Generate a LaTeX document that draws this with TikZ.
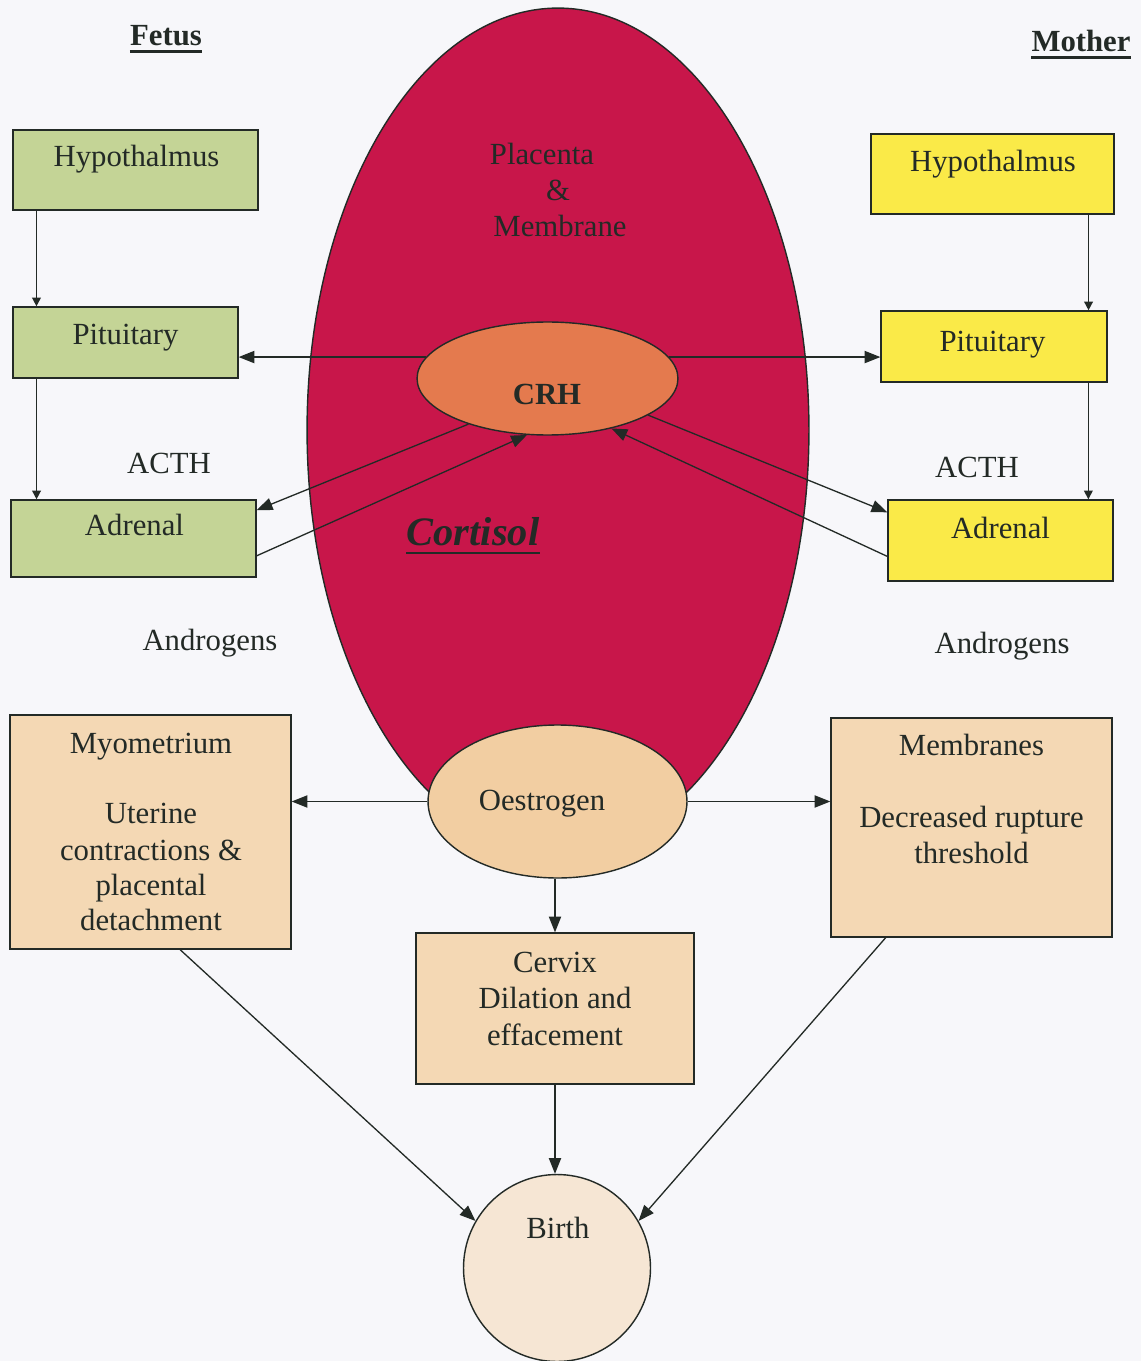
\documentclass[tikz,border=0pt]{standalone}
\usepackage{fontspec}
\setmainfont{Liberation Serif}
\usetikzlibrary{arrows.meta,shapes.geometric,calc}
\definecolor{bg}{RGB}{247,247,250}
\definecolor{ink}{RGB}{35,42,38}
\definecolor{fgreen}{RGB}{196,212,150}
\definecolor{myellow}{RGB}{250,234,72}
\definecolor{peach}{RGB}{244,216,180}
\definecolor{crimson}{RGB}{200,22,74}
\definecolor{crhorange}{RGB}{228,122,78}
\definecolor{oestpeach}{RGB}{242,206,162}
\definecolor{birthfill}{RGB}{246,230,212}
\begin{document}
\begin{tikzpicture}[x=0.02cm,y=-0.02cm,
  every node/.style={font=\fontsize{17.5}{21}\selectfont, text=ink},
  box/.style={draw=ink, line width=0.8pt, rectangle, inner sep=0pt},
  fbox/.style={box, fill=fgreen},
  mbox/.style={box, fill=myellow},
  pbox/.style={box, fill=peach},
  lbl/.style={anchor=base, inner sep=0pt},
  arr/.style={draw=ink, line width=0.75pt, -{Triangle[length=9pt,width=7pt]}},
  sarr/.style={draw=ink, line width=0.9pt, -{Triangle[length=5pt,width=5pt]}},
  headfont/.style={font=\fontsize{17.5}{21}\selectfont\bfseries}
]
\fill[bg] (0,0) rectangle (1141,1361);
\useasboundingbox (0,0) rectangle (1141,1361);

% placenta
\node[ellipse, draw=ink, line width=0.8pt, fill=crimson, minimum width=10.04cm, minimum height=16.88cm, inner sep=0pt] (plac) at (558,430) {};
\node[lbl] (plac1) at (542,165) {Placenta};
\node[lbl] (plac2) at (558,201) {\&};
\node[lbl] (plac3) at (560,237) {Membrane};

% titles
\node[lbl, headfont] (fetus) at (166,46) {Fetus};
\draw[ink, line width=1.6pt] ([yshift=-0.11cm]fetus.base west) -- ([yshift=-0.11cm]fetus.base east);
\node[lbl, headfont] (mother) at (1081,52) {Mother};
\draw[ink, line width=1.6pt] ([yshift=-0.11cm]mother.base west) -- ([yshift=-0.11cm]mother.base east);

% fetus boxes
\node[fbox, minimum width=4.90cm, minimum height=1.60cm] (fhyp) at (135.5,170) {};
\node[lbl] (fhypt) at (136.5,167) {Hypothalmus};
\node[fbox, minimum width=4.50cm, minimum height=1.42cm] (fpit) at (125.5,342.5) {};
\node[lbl] (fpitt) at (125.5,345) {Pituitary};
\node[fbox, minimum width=4.90cm, minimum height=1.54cm] (fadr) at (133.5,538.5) {};
\node[lbl] (fadrt) at (134.5,535) {Adrenal};

% mother boxes
\node[mbox, minimum width=4.86cm, minimum height=1.60cm] (mhyp) at (992.5,174) {};
\node[lbl] (mhypt) at (993,172) {Hypothalmus};
\node[mbox, minimum width=4.52cm, minimum height=1.42cm] (mpit) at (994,346.5) {};
\node[lbl] (mpitt) at (992.5,352) {Pituitary};
\node[mbox, minimum width=4.50cm, minimum height=1.62cm] (madr) at (1000.5,540.5) {};
\node[lbl] (madrt) at (1000.5,538) {Adrenal};

% side labels
\node[lbl] (facth) at (169,473) {ACTH};
\node[lbl] (macth) at (977,477) {ACTH};
\node[lbl] (fandr) at (210,650) {Androgens};
\node[lbl] (mandr) at (1002,653) {Androgens};

% CRH
\node[ellipse, draw=ink, line width=0.8pt, fill=crhorange, minimum width=5.22cm, minimum height=2.26cm, inner sep=0pt] (crh) at (547.5,378.5) {};
\node[lbl, headfont] (crht) at (547,404) {CRH};

% Cortisol
\node[lbl, font=\fontsize{23}{27}\selectfont\bfseries\itshape] (cort) at (473,545) {Cortisol};
\draw[ink, line width=1.2pt] ([yshift=-0.16cm]cort.base west) -- ([yshift=-0.16cm]cort.base east);

% Oestrogen
\node[ellipse, draw=ink, line width=0.8pt, fill=oestpeach, minimum width=5.18cm, minimum height=3.06cm, inner sep=0pt] (oest) at (557.5,801.5) {};
\node[lbl] (oestt) at (542,810) {Oestrogen};

% lower boxes
\node[pbox, minimum width=5.62cm, minimum height=4.68cm] (myo) at (150.5,832) {};
\node[lbl] (myo1) at (151,753) {Myometrium};
\node[lbl] (myo2) at (151,823) {Uterine};
\node[lbl] (myo3) at (151,860) {contractions \&};
\node[lbl] (myo4) at (151,895) {placental};
\node[lbl] (myo5) at (151,930) {detachment};

\node[pbox, minimum width=5.62cm, minimum height=4.38cm] (mem) at (971.5,827.5) {};
\node[lbl] (mem1) at (971.5,755) {Membranes};
\node[lbl] (mem2) at (971.5,827) {Decreased rupture};
\node[lbl] (mem3) at (971.5,863) {threshold};

\node[pbox, minimum width=5.56cm, minimum height=3.02cm] (cerv) at (555,1008.5) {};
\node[lbl] (cerv1) at (555,972) {Cervix};
\node[lbl] (cerv2) at (555,1008) {Dilation and};
\node[lbl] (cerv3) at (555,1045) {effacement};

\node[circle, draw=ink, line width=0.8pt, fill=birthfill, minimum size=3.74cm, inner sep=0pt] (birth) at (557,1268) {};
\node[lbl] (birtht) at (558,1238) {Birth};

% vertical hormone axis arrows
\coordinate (fa) at ($(fhyp.south west)!0.098!(fhyp.south east)$);
\draw[sarr] (fa) -- (fa |- fpit.north);
\coordinate (fb) at ($(fpit.south west)!0.107!(fpit.south east)$);
\draw[sarr] (fb) -- (fb |- fadr.north);
\coordinate (ma) at ($(mhyp.south west)!0.893!(mhyp.south east)$);
\draw[sarr] (ma) -- (ma |- mpit.north);
\coordinate (mb) at ($(mpit.south west)!0.915!(mpit.south east)$);
\draw[sarr] (mb) -- (mb |- madr.north);

% CRH connectors
\draw[arr] (crh.170) -- (crh.170 -| fpit.east);
\draw[arr] (crh.10) -- (crh.10 -| mpit.west);
\draw[arr] (crh.210) -- (fadr.13);
\draw[arr] (fadr.-8) -- (crh.250);
\draw[arr] (crh.-20) -- (madr.166);
\draw[arr] (madr.188) -- (crh.-38);

% oestrogen connectors
\draw[arr] (oest.west) -- (oest.west -| myo.east);
\draw[arr] (oest.east) -- (oest.east -| mem.west);
\draw[arr] (oest.south -| cerv.north) -- (cerv.north);
\draw[arr] (cerv.south) -- (cerv.south |- birth.north);
\draw[arr] ($(myo.south west)!0.605!(myo.south east)$) -- (birth.150);
\draw[arr] ($(mem.south west)!0.196!(mem.south east)$) -- (birth.30);
\end{tikzpicture}
\end{document}
